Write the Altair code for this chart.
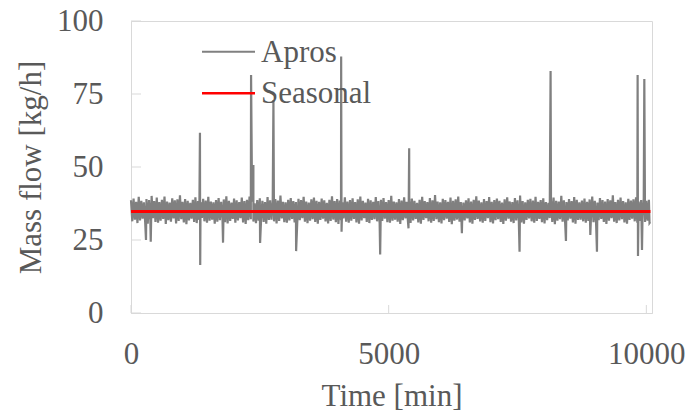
import altair as alt
import pandas as pd

# ---- data ----
band_high = [
    38.6, 39.2, 38.1, 39.8, 38.4, 37.9, 39.0, 38.7, 40.1, 38.3,
    39.5, 38.0, 38.8, 39.9, 38.2, 37.8, 39.3, 38.6, 38.9, 40.3,
    38.1, 39.0, 38.4, 37.7, 38.8, 39.6, 38.3, 38.0, 39.1, 38.5,
    39.8, 38.2, 37.9, 38.7, 39.4, 38.1, 38.9, 40.0, 38.4, 37.8,
    39.2, 38.6, 38.0, 39.5, 38.3, 38.8, 39.9, 38.1, 37.6, 38.7,
    39.3, 38.4, 38.0, 39.7, 38.6, 38.2, 39.0, 38.5, 40.2, 38.1,
    37.9, 38.8, 39.4, 38.3, 38.0, 39.1, 38.7, 39.8, 38.2, 37.8,
    38.9, 39.5, 38.4, 38.1, 39.2, 38.6, 37.7, 38.8, 40.0, 38.3,
    39.0, 38.5, 37.9, 39.6, 38.2, 38.7, 39.3, 38.0, 38.9, 39.9,
    38.4, 37.8, 39.1, 38.6, 38.1, 39.7, 38.3, 38.8, 39.4, 38.0,
    38.7, 40.1, 38.2, 37.9, 39.0, 38.5, 39.6, 38.1, 38.9, 39.2,
    38.4, 37.7, 38.8, 39.8, 38.3, 38.0, 39.4, 38.6, 40.4, 38.2,
    37.9, 39.1, 38.7, 38.1, 39.5, 38.4, 38.9, 39.9, 38.0, 37.8,
    38.6, 39.3, 38.2, 38.8, 40.0, 38.5, 37.9, 39.0, 38.3, 39.7,
    38.1, 38.7, 39.2, 38.4, 37.8, 38.9, 39.6, 38.2, 38.0, 39.4,
    38.6, 40.2, 38.3, 37.9, 38.8, 39.1, 38.5, 39.8, 38.1, 38.7,
    39.3, 38.0, 37.7, 38.9, 39.5, 38.4, 38.2, 40.1, 38.6, 38.0,
    39.0, 38.3, 39.7, 38.8, 37.9, 38.5, 39.2, 38.1, 38.9, 39.9,
    38.4, 37.8, 39.4, 38.7, 38.2, 39.0, 38.6, 40.3, 38.0, 38.8,
    39.5, 38.3, 37.9, 39.1, 38.5, 38.9, 39.6, 38.2, 38.7, 39.3,
    38.4, 38.8,
]
band_low = [
    31.4, 32.0, 30.8, 31.7, 32.3, 31.1, 30.6, 31.9, 32.5, 31.2,
    30.9, 31.6, 32.2, 30.5, 31.8, 31.3, 32.4, 30.7, 31.5, 32.1,
    31.0, 30.4, 31.7, 32.3, 31.2, 30.8, 31.9, 32.6, 31.4, 30.9,
    31.6, 32.0, 30.6, 31.3, 31.8, 32.4, 31.1, 30.7, 31.5, 32.2,
    30.9, 31.7, 32.5, 31.0, 30.5, 31.8, 32.1, 31.3, 30.8, 31.6,
    32.3, 31.2, 30.6, 31.9, 32.0, 31.4, 30.7, 31.5, 32.4, 31.1,
    30.9, 31.7, 32.2, 31.0, 30.4, 31.8, 32.5, 31.3, 30.8, 31.6,
    32.1, 31.2, 30.6, 31.9, 32.3, 31.4, 30.7, 31.5, 32.0, 31.1,
    30.5, 31.8, 32.4, 31.3, 30.9, 31.6, 32.2, 31.0, 30.6, 31.7,
    32.5, 31.2, 30.8, 31.9, 32.1, 31.4, 30.7, 31.5, 32.3, 31.1,
    30.9, 31.6, 32.0, 31.3, 30.5, 31.8, 32.4, 31.2, 30.8, 31.7,
    32.2, 31.0, 30.6, 31.9, 32.5, 31.4, 30.9, 31.5, 32.1, 31.1,
    30.7, 31.8, 32.3, 31.2, 30.4, 31.6, 32.0, 31.3, 30.8, 31.7,
    32.4, 31.0, 30.6, 31.9, 32.2, 31.4, 30.9, 31.5, 32.5, 31.1,
    30.7, 31.8, 32.1, 31.2, 30.5, 31.6, 32.3, 31.3, 30.8, 31.7,
    32.0, 31.0, 30.6, 31.9, 32.4, 31.4, 30.9, 31.5, 32.2, 31.1,
    30.7, 31.8, 32.5, 31.2, 30.4, 31.6, 32.1, 31.3, 30.8, 31.7,
    32.3, 31.0, 30.6, 31.9, 32.0, 31.4, 30.9, 31.5, 32.4, 31.1,
    30.7, 31.8, 32.2, 31.2, 30.5, 31.6, 32.5, 31.3, 30.8, 31.7,
    32.1, 31.0, 30.6, 31.9, 32.3, 31.4, 30.9, 31.5, 32.0, 31.2,
    31.6, 31.1,
]
band_step = 25  # minutes between band samples

spike_time = [291, 383, 1338, 1343, 1786, 2330, 2375, 2505, 2764, 3204,
              4078, 4086, 4835, 5385, 5398, 6421, 7540, 8142, 8440, 8913,
              9042, 9831, 9838, 9916, 9961, 10062]
spike_value = [25.0, 24.4, 61.7, 16.4, 24.1, 81.5, 50.7, 24.0, 72.9, 21.2,
               87.8, 27.8, 20.0, 29.0, 56.4, 27.3, 21.0, 82.9, 24.7, 26.7,
               21.0, 81.5, 19.5, 21.6, 80.1, 30.8]

seasonal_time = [0, 10080]
seasonal_value = [34.8, 34.8]

x_ticks = [0, 5000, 10000]
y_ticks = [0, 25, 50, 75, 100]
legend_labels = ["Apros", "Seasonal"]
legend_colors = ["#808080", "#ff0000"]

# ---- tables ----
times, vals = [], []
for i, (h, l) in enumerate(zip(band_high, band_low)):
    times += [2 * i * band_step, (2 * i + 1) * band_step]
    vals += [h, l]
times += spike_time
vals += spike_value
apros = pd.DataFrame({"t": times, "v": vals}).sort_values("t").reset_index(drop=True)
seasonal = pd.DataFrame({"t": seasonal_time, "v": seasonal_value})

FONT = "Liberation Serif"
TXT = "#595959"
GRID = "#d9d9d9"
W, H = 521, 292

xscale = alt.Scale(domain=[0, 10110], nice=False, zero=False)
yscale = alt.Scale(domain=[0, 100], nice=False)

x_axis = alt.Axis(values=x_ticks, title="Time [min]", format="d", labelFlush=False,
                  labelBaseline="alphabetic", labelPadding=50,
                  titleBaseline="alphabetic", titleY=92, titleX=W / 2,
                  titleAlign="center")
y_axis = alt.Axis(values=y_ticks, title="Mass flow [kg/h]", format="d", labelPadding=28,
                  titleAngle=270, titleBaseline="alphabetic", titleX=-91,
                  titleY=H / 2, titleAlign="center")

apros_line = alt.Chart(apros).mark_line(color=legend_colors[0], strokeWidth=2.2).encode(
    x=alt.X("t:Q", scale=xscale, axis=x_axis),
    y=alt.Y("v:Q", scale=yscale, axis=y_axis),
)
seasonal_line = alt.Chart(seasonal).mark_line(color=legend_colors[1], strokeWidth=3).encode(
    x=alt.X("t:Q", scale=xscale),
    y=alt.Y("v:Q", scale=yscale),
)

ytick_rules = alt.Chart(pd.DataFrame({"v": y_ticks})).mark_rule(color=GRID, strokeWidth=1).encode(
    y=alt.Y("v:Q", scale=yscale), x=alt.value(0), x2=alt.value(10)
)
xtick_rules = alt.Chart(pd.DataFrame({"t": x_ticks})).mark_rule(color=GRID, strokeWidth=1).encode(
    x=alt.X("t:Q", scale=xscale), y=alt.value(H - 8), y2=alt.value(H)
)

legend_layers = []
for i, (lab, col) in enumerate(zip(legend_labels, legend_colors)):
    ld = pd.DataFrame({"label": [lab]})
    legend_layers.append(
        alt.Chart(ld).mark_rule(color=col, strokeWidth=2.5 if i else 2).encode(
            x=alt.value(71), x2=alt.value(124), y=alt.value(30.7 + 41.6 * i)
        )
    )
    legend_layers.append(
        alt.Chart(ld).mark_text(align="left", baseline="alphabetic", font=FONT,
                                fontSize=31, color=TXT).encode(
            text="label:N", x=alt.value(130), y=alt.value(40.7 + 41.6 * i)
        )
    )

chart = alt.layer(apros_line, seasonal_line, ytick_rules, xtick_rules, *legend_layers).properties(
    width=W, height=H,
    background="white",
    autosize=alt.AutoSizeParams(type="none"),
    padding={"left": 131, "top": 21, "right": 40, "bottom": 101},
).configure_view(
    stroke=GRID, strokeWidth=1
).configure_axis(
    labelFont=FONT, labelFontSize=31, labelColor=TXT,
    titleFont=FONT, titleFontSize=31, titleColor=TXT, titleFontWeight="normal",
    domainColor=GRID, domainWidth=1, ticks=False, tickSize=0, grid=False,
    labelOverlap=False,
)

chart.save("out.html", embed_options={"renderer": "svg", "actions": False})
